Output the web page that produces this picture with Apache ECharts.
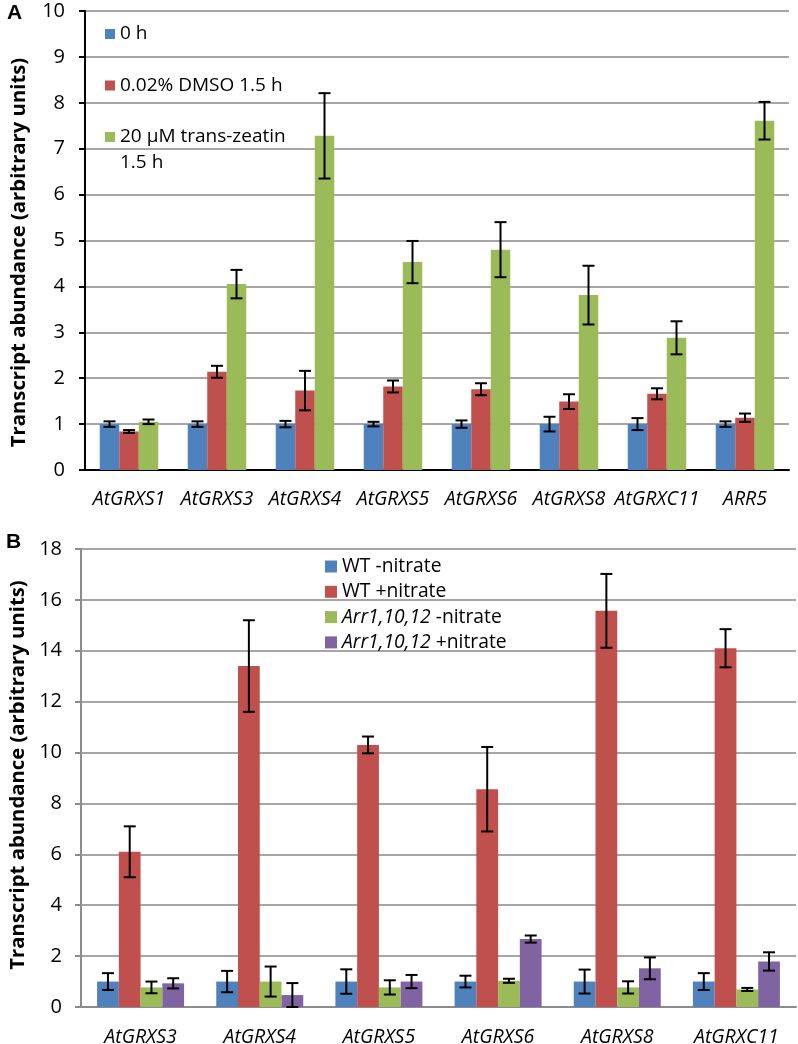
<!DOCTYPE html>
<html>
<head>
<meta charset="utf-8">
<script src="https://cdn.jsdelivr.net/npm/echarts@6/dist/echarts.min.js"></script>
<style>html,body{margin:0;padding:0;background:#fff}#c{width:798px;height:1044px}</style>
</head>
<body>
<div id="c"></div>
<script>
// ---- Panel A data ----
const catsA = ['AtGRXS1','AtGRXS3','AtGRXS4','AtGRXS5','AtGRXS6','AtGRXS8','AtGRXC11','ARR5'];
const namesA = ['0 h','0.02% DMSO 1.5 h','20 µM trans-zeatin 1.5 h'];
const a0h   = [1.00, 1.00, 1.00, 1.00, 1.00, 1.00, 1.00, 1.00];
const a0hE  = [0.06, 0.06, 0.07, 0.05, 0.08, 0.16, 0.13, 0.06];
const aDmso = [0.84, 2.14, 1.73, 1.82, 1.76, 1.49, 1.66, 1.14];
const aDmsoE= [0.03, 0.13, 0.43, 0.13, 0.13, 0.16, 0.12, 0.09];
const aZea  = [1.05, 4.05, 7.28, 4.53, 4.80, 3.81, 2.88, 7.61];
const aZeaE = [0.05, 0.31, 0.93, 0.46, 0.60, 0.64, 0.36, 0.41];
const ticksA = [0,1,2,3,4,5,6,7,8,9,10];

// ---- Panel B data ----
const catsB = ['AtGRXS3','AtGRXS4','AtGRXS5','AtGRXS6','AtGRXS8','AtGRXC11'];
const namesB = ['WT -nitrate','WT +nitrate','Arr1,10,12 -nitrate','Arr1,10,12 +nitrate'];
const bWtM   = [1.00, 1.00, 1.00, 1.00, 1.00, 1.00];
const bWtME  = [0.33, 0.42, 0.48, 0.23, 0.47, 0.33];
const bWtP   = [6.10, 13.40, 10.30, 8.56, 15.57, 14.10];
const bWtPE  = [1.00, 1.80, 0.33, 1.66, 1.45, 0.75];
const bArrM  = [0.77, 1.00, 0.77, 1.03, 0.77, 0.69];
const bArrME = [0.23, 0.59, 0.28, 0.08, 0.24, 0.06];
const bArrP  = [0.93, 0.47, 1.00, 2.67, 1.52, 1.79];
const bArrPE = [0.20, 0.47, 0.26, 0.14, 0.43, 0.36];
const ticksB = [0,2,4,6,8,10,12,14,16,18];

const colors = ['#4F81BD','#C0504D','#9BBB59','#8064A2'];
const FONT = 'Open Sans';

function errSeries(name, vals, errs, si, n, gap, xi, yi){
  return {
    type:'custom', name: name + ' err', xAxisIndex: xi, yAxisIndex: yi, z: 5,
    data: vals.map((v,i)=>[i, v, errs[i]]),
    encode:{x:0, y:1},
    silent:true,
    renderItem: function(params, api){
      const ci = api.value(0), v = api.value(1), e = api.value(2);
      const c = api.coord([ci, v]);
      const hi = api.coord([ci, v+e]);
      const lo = api.coord([ci, Math.max(0, v-e)]);
      const W = api.size([1,0])[0];
      const occ = W*(1-gap);
      const bw = occ/n;
      const x = c[0] - occ/2 + (si+0.5)*bw;
      const cw = 6;
      const st = {stroke:'#000', lineWidth:2};
      return {type:'group', children:[
        {type:'line', shape:{x1:x, y1:hi[1], x2:x, y2:lo[1]}, style:st},
        {type:'line', shape:{x1:x-cw, y1:hi[1], x2:x+cw, y2:hi[1]}, style:st},
        {type:'line', shape:{x1:x-cw, y1:lo[1], x2:x+cw, y2:lo[1]}, style:st}
      ]};
    }
  };
}

const gapA = 0.335, gapB = 0.27;
const seriesA = [[a0h,a0hE],[aDmso,aDmsoE],[aZea,aZeaE]];
const seriesB = [[bWtM,bWtME],[bWtP,bWtPE],[bArrM,bArrME],[bArrP,bArrPE]];

const series = [];
seriesA.forEach((s,i)=>{
  series.push({type:'bar', name:namesA[i], xAxisIndex:0, yAxisIndex:0, data:s[0],
    barGap:'0%', barCategoryGap:(gapA*100)+'%', itemStyle:{color:colors[i]}, silent:true});
});
seriesB.forEach((s,i)=>{
  series.push({type:'bar', name:namesB[i], xAxisIndex:1, yAxisIndex:1, data:s[0],
    barGap:'0%', barCategoryGap:(gapB*100)+'%', itemStyle:{color:colors[i]}, silent:true});
});
seriesA.forEach((s,i)=>series.push(errSeries(namesA[i], s[0], s[1], i, 3, gapA, 0, 0)));
seriesB.forEach((s,i)=>series.push(errSeries(namesB[i], s[0], s[1], i, 4, gapB, 1, 1)));

const chart = echarts.init(document.getElementById('c'), null, {renderer:'canvas'});
chart.setOption({
  animation:false,
  backgroundColor:'#fff',
  textStyle:{fontFamily:FONT},
  grid:[
    {left:85, top:11, width:704, height:459, containLabel:false, outerBoundsMode:'none'},
    {left:81, top:549, width:715, height:458, containLabel:false, outerBoundsMode:'none'}
  ],
  xAxis:[
    {type:'category', gridIndex:0, data:catsA,
     axisLine:{lineStyle:{color:'#000', width:2}},
     axisTick:{length:6, lineStyle:{color:'#000', width:2}},
     axisLabel:{interval:0, color:'#000', fontSize:19.5, fontStyle:'italic', fontFamily:FONT, margin:19}},
    {type:'category', gridIndex:1, data:catsB,
     axisLine:{lineStyle:{color:'#8c8c8c', width:2}},
     axisTick:{length:6, lineStyle:{color:'#8c8c8c', width:2}},
     axisLabel:{interval:0, color:'#000', fontSize:19.5, fontStyle:'italic', fontFamily:FONT, margin:20}}
  ],
  yAxis:[
    {type:'value', gridIndex:0, min:ticksA[0], max:ticksA[ticksA.length-1], interval:ticksA[1]-ticksA[0],
     name:'Transcript abundance (arbitrary units)', nameLocation:'middle', nameGap:56,
     nameTextStyle:{fontSize:20.3, fontWeight:'bold', color:'#000', fontFamily:FONT, padding:[0,24,0,0]},
     axisLine:{show:true, lineStyle:{color:'#000', width:2}},
     axisTick:{show:true, length:6, lineStyle:{color:'#000', width:2}},
     axisLabel:{color:'#000', fontSize:20, margin:20, fontFamily:FONT},
     splitLine:{lineStyle:{color:'#a6a6a6', width:2}}},
    {type:'value', gridIndex:1, min:ticksB[0], max:ticksB[ticksB.length-1], interval:ticksB[1]-ticksB[0],
     name:'Transcript abundance (arbitrary units)', nameLocation:'middle', nameGap:52,
     nameTextStyle:{fontSize:20.3, fontWeight:'bold', color:'#000', fontFamily:FONT, padding:[0,0,0,6]},
     axisLine:{show:true, lineStyle:{color:'#8c8c8c', width:2}},
     axisTick:{show:true, length:6, lineStyle:{color:'#8c8c8c', width:2}},
     axisLabel:{color:'#000', fontSize:20, margin:19, fontFamily:FONT},
     splitLine:{lineStyle:{color:'#a6a6a6', width:2}}}
  ],
  legend:[
    {data:namesA, orient:'vertical', left:105, top:23, padding:0, itemWidth:10, itemHeight:10, itemGap:29.5,
     icon:'rect', selectedMode:false,
     formatter: n => n === namesA[2] ? '20 µM trans-zeatin' : n,
     textStyle:{fontSize:19, color:'#000', lineHeight:22, fontFamily:FONT}},
    {data:namesB, orient:'vertical', left:325, top:555.5, padding:0, itemWidth:12, itemHeight:12, itemGap:3.3,
     icon:'rect', selectedMode:false,
     formatter: n => n.indexOf('Arr') === 0 ? '{i|Arr1,10,12} ' + n.slice(11) : n,
     textStyle:{fontSize:19.3, color:'#000', lineHeight:22, fontFamily:FONT,
       rich:{i:{fontStyle:'italic', fontSize:19.3, fontFamily:FONT, color:'#000'}}}}
  ],
  graphic:[
    {type:'text', left:120, top:153, style:{text:'1.5 h', fontSize:19, fill:'#000', fontFamily:FONT}},
    {type:'text', left:7, top:3, style:{text:'A', font:'bold 21px "Liberation Sans"', fill:'#000'}},
    {type:'text', left:6, top:532, style:{text:'B', font:'bold 21px "Liberation Sans"', fill:'#000'}}
  ],
  series: series
});
</script>
</body>
</html>
